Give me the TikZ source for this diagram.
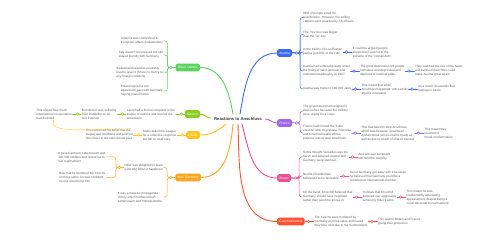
\documentclass[tikz,border=0pt]{standalone}
\usepackage{fontspec}
\setmainfont{Liberation Sans}
\usepackage{tikz}
\usetikzlibrary{arrows.meta,positioning}

\definecolor{austriac}{HTML}{3D6AF5}
\definecolor{francec}{HTML}{A066EE}
\definecolor{britainc}{HTML}{EE4F93}
\definecolor{czechc}{HTML}{FF5232}
\definecolor{othersc}{HTML}{5BD25E}
\definecolor{mexicoc}{HTML}{8ACF1E}
\definecolor{ussrc}{HTML}{FFC61F}
\definecolor{nazic}{HTML}{FFA51F}
\definecolor{leaftext}{HTML}{5A5A5A}

\begin{document}
\begin{tikzpicture}[x=1pt, y=-1pt, line cap=round,
    topic/.style={fill=#1, rounded corners=1.6pt, text=white, font=\fontsize{3.3}{4}\selectfont,
        minimum height=7.6pt, inner xsep=2.2pt, inner ysep=0pt},
    leaf/.style={text=leaftext, font=\fontsize{3.1}{3.95}\selectfont, align=left, inner sep=0.5pt},
    limb/.style={draw=#1, line width=0.9pt},
    twig/.style={draw=#1, line width=0.5pt, rounded corners=2.5pt},
    knob/.style={draw=#1, fill=white, line width=0.5pt},
    rel/.style={draw=ussrc, line width=0.4pt, -{Stealth[length=2.2pt,width=2pt]}},
    node distance=9pt]
    \useasboundingbox (0,0) rectangle (500,240);

    % central topic
    \node[font=\bfseries\fontsize{4.2}{5}\selectfont, text=black!80] (anschluss) at (238,119) {Reactions to Anschluss};

    % main topics, right
    \node[topic=austriac, anchor=west] (austria) at (277,53) {Austria};
    \node[topic=francec, anchor=west] (france) at (277,123) {France};
    \node[topic=britainc, anchor=west] (britain) at (277,178) {Britain};
    \node[topic=czechc, anchor=west] (czech) at (277,221.5) {Czechoslovakia};
    % main topics, left
    \node[topic=othersc, anchor=east] (others) at (200,67.5) {Other nations};
    \node[topic=mexicoc, anchor=east] (mexico) at (200,114) {Mexico};
    \node[topic=ussrc, anchor=east] (ussr) at (200,135) {USSR};
    \node[topic=nazic, anchor=east] (nazi) at (201,177.5) {Nazi Germany};

    % Austria
    \node[leaf, anchor=west] (a1) at (302.5,17.5) {99\% of people voted for\\reunification. However, the polling\\stations were guarded by SS officers.};
    \node[leaf, anchor=west] (a2) at (302.5,34.5) {The `Yes' box was bigger\\than the `no' box.};
    \node[leaf, anchor=west] (a3) at (302.5,52) {In the 1920's, Pro-unification\\parties got 65\% of the vote.};
    \node[leaf, right=of a3] (a3a) {It could be argued people\\supported it just not to the\\extreme of the ``referendum''.};
    \node[leaf, anchor=west] (a4) at (302.5,71) {Austria had suffered greatly under\\the treaty of saint-germain and\\underwent bankruptcy in 1927.};
    \node[leaf, right=of a4] (a4a) {The great depression left people\\homeless and depressed and\\deprived of national pride.};
    \node[leaf, right=of a4a] (a4b) {They watched the rise of the Nazis\\and believed that Hitler could\\make Austria great again.};
    \node[leaf, anchor=west] (a5) at (302.5,89) {Austria was home to 180,000 Jews};
    \node[leaf, right=of a5] (a5a) {This meant that when\\Anschluss happened, anti-semitic\\attacks increased.};
    \node[leaf, right=of a5a] (a5b) {As a result, thousands fled\\fearing no future.};

    % France
    \node[leaf, anchor=west] (f1) at (302.5,111) {The government had resigned 2\\days before because the military\\were urging for a coup.};
    \node[leaf, anchor=west] (f2) at (302.5,133) {France had formed the ``Little\\entente'' with Yugoslavia, Romania\\and Czechoslovakia whose\\purpose was to stop Anschluss.};
    \node[leaf, right=of f2] (f2a) {This had failed to stop Anschluss,\\which was because it had been\\dysfunctional since Locarno treaty as\\well as due to a lack of shared interest};
    \node[leaf, right=of f2a] (f2b) {This meant they\\resorted to\\moral condemnation.};

    % Britain
    \node[leaf, anchor=west] (b1) at (302.5,157) {Some thought Versailles was too\\harsh and believed Austria and\\Germany were identical.};
    \node[leaf, right=of b1] (b1a) {And anti-war sentiment\\still held the majority.};
    \node[leaf, anchor=west] (b2) at (302.5,176) {Neville Chamberlain\\believed it to be favorable.};
    \node[leaf, right=of b2] (b2a) {He let Germany get away with it because\\he believed that Germany could be a\\constructive international member.};
    \node[leaf, anchor=west] (b3) at (302.5,197) {On the hand, Churchill believed that\\Germany should have negotiate\\rather than send the troops in.};
    \node[leaf, right=of b3] (b3a) {It shows that Churchill\\believed non aggressive\\achieving Hitler's aims.};
    \node[leaf, right=of b3a] (b3b) {This meant he was\\inadvertently advocating\\appeasement despite being a\\vocal advocate to rearmament.};

    % Czechoslovakia
    \node[leaf, right=of czech] (c1) {The Czechs were bordered by\\Germany on three sides and feared\\they'd be next due to the Sudetenland.};
    \node[leaf, right=of c1] (c1a) {This lead to Britain and France\\giving their protection};

    % Other nations
    \node[leaf, anchor=east] (o1) at (163.5,41) {America was Uninvolved in\\European affairs (isolationism)};
    \node[leaf, anchor=east] (o2) at (163.5,55) {Italy weren't too pleased but still\\stayed friendly with Germany};
    \node[leaf, anchor=east] (o3) at (163.5,73) {Switzerland raised its neutrality\\level to level 4 (Show no mercy to\\any foreign invaders)};
    \node[leaf, anchor=east] (o4) at (163.5,91) {Poland signed a non\\aggression pact with Germany\\hoping it would work.};

    % Mexico
    \node[leaf, left=of mexico] (m1) {Launched a formal complaint in the\\league of nations and decried the\\annexation.};
    \node[leaf, left=of m1] (m2) {But Mexico was suffering\\from instability so no\\one listened.};
    \node[leaf, left=of m2] (m3) {This shows how much\\international co-operation\\had declined.};

    % USSR
    \node[leaf, left=of ussr] (u1) {Stalin asked the League\\for a collective response\\but fell on deaf ears.};
    \node[leaf, left=of u1] (u2) {This reinforced his belief that the\\league was worthless and pushed\\him closer to the Nazi-Soviet pact};

    % Nazi Germany
    \node[leaf, anchor=east] (n1) at (163.5,167.5) {Hitler was delighted to learn\\(Literally) when it happened};
    \node[leaf, anchor=east] (n2) at (163.5,197) {It was a massive propaganda\\victory which furthered both\\Lebensraum and Volksdeutsche.};
    \node[leaf, anchor=east] (n1a) at (106,157) {It gave Germany Lebensraum and\\100,000 soldiers and resources to\\fuel rearmament};
    \node[leaf, anchor=east] (n1b) at (106,177.5) {Now that he bordered the Czechs\\on three sides, he was confident\\no one would stop him};

    % limbs from the centre
    \draw[limb=austriac] ([xshift=2pt]anschluss.north) to[out=80,in=180] (austria.west);
    \draw[limb=othersc] ([xshift=-5pt]anschluss.north) to[out=100,in=0] (others.east);
    \draw[limb=mexicoc] ([yshift=1pt]anschluss.west) to[out=180,in=0] (mexico.east);
    \draw[limb=ussrc] ([xshift=-12pt]anschluss.south) to[out=220,in=0] (ussr.east);
    \draw[limb=nazic] ([xshift=-5pt]anschluss.south) to[out=265,in=0] (nazi.east);
    \draw[limb=francec] (anschluss.east) to[out=0,in=180] (france.west);
    \draw[limb=britainc] ([xshift=4pt]anschluss.south) to[out=-75,in=180] (britain.west);
    \draw[limb=czechc] (anschluss.south) to[out=-88,in=180] (czech.west);

    % knob points
    \coordinate (ka) at ([xshift=4.5pt]austria.east);
    \coordinate (kf) at ([xshift=4.5pt]france.east);
    \coordinate (kb) at ([xshift=4.5pt]britain.east);
    \coordinate (ko) at ([xshift=-4.5pt]others.west);
    \coordinate (kn) at ([xshift=-4.5pt]nazi.west);
    \coordinate (kn1) at ([xshift=-4.5pt]n1.west);

    % brackets
    \foreach \c in {a1,a2,a3,a4,a5}
        \draw[twig=austriac] (austria.east) -- (ka) -- ++(3.5,0) |- (\c.west);
    \foreach \c in {f1,f2}
        \draw[twig=francec] (france.east) -- (kf) -- ++(3.5,0) |- (\c.west);
    \foreach \c in {b1,b2,b3}
        \draw[twig=britainc] (britain.east) -- (kb) -- ++(3.5,0) |- (\c.west);
    \foreach \c in {o1,o2,o3,o4}
        \draw[twig=othersc] (others.west) -- (ko) -- ++(-3.5,0) |- (\c.east);
    \foreach \c in {n1,n2}
        \draw[twig=nazic] (nazi.west) -- (kn) -- ++(-3.5,0) |- (\c.east);
    \foreach \c in {n1a,n1b}
        \draw[twig=nazic] (n1.west) -- (kn1) -- ++(-3.5,0) |- (\c.east);

    % single links, knob near the parent
    \foreach \p/\q/\col in {a3/a3a/austriac, a4/a4a/austriac, a4a/a4b/austriac, a5/a5a/austriac, a5a/a5b/austriac,
            f2/f2a/francec, f2a/f2b/francec, b1/b1a/britainc, b2/b2a/britainc, b3/b3a/britainc, b3a/b3b/britainc,
            czech/c1/czechc, c1/c1a/czechc} {
        \draw[twig=\col] (\p.east) -- (\q.west);
        \filldraw[knob=\col] ([xshift=3.5pt]\p.east) circle (1.3pt);
    }
    \foreach \p/\q/\col in {mexico/m1/mexicoc, m1/m2/mexicoc, m2/m3/mexicoc, ussr/u1/ussrc, u1/u2/ussrc} {
        \draw[twig=\col] (\p.west) -- (\q.east);
        \filldraw[knob=\col] ([xshift=-3.5pt]\p.west) circle (1.3pt);
    }

    % knobs on brackets
    \filldraw[knob=austriac] (ka) circle (1.3pt);
    \filldraw[knob=francec] (kf) circle (1.3pt);
    \filldraw[knob=britainc] (kb) circle (1.3pt);
    \filldraw[knob=othersc] (ko) circle (1.3pt);
    \filldraw[knob=nazic] (kn) circle (1.3pt);
    \filldraw[knob=nazic] (kn1) circle (1.3pt);

    % relationship
    \draw[rel] ([xshift=-2pt]u2.north east) .. controls (95,129) and (48,134) .. (m3.south);
\end{tikzpicture}
\end{document}
